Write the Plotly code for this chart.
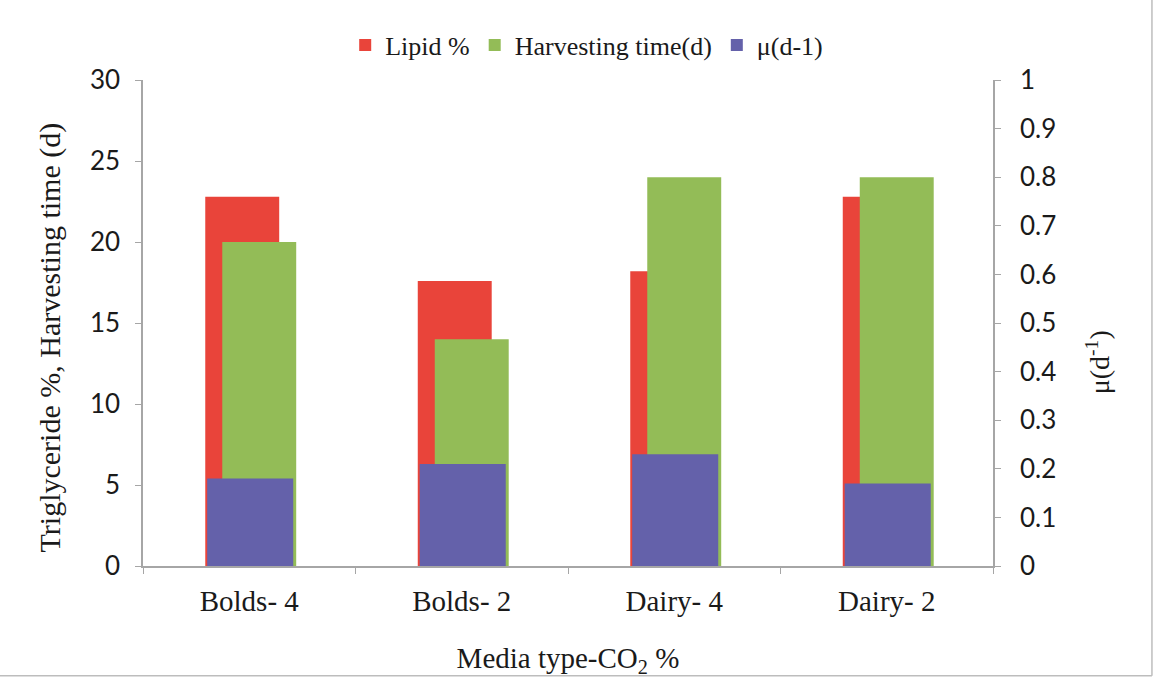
import plotly.graph_objects as go

categories = ["Bolds- 4", "Bolds- 2", "Dairy- 4", "Dairy- 2"]
lipid = [22.8, 17.6, 18.2, 22.8]
harvest = [20.0, 14.0, 24.0, 24.0]
mu = [0.18, 0.21, 0.23, 0.17]

left_ticks = [0, 5, 10, 15, 20, 25, 30]
right_ticks = [0, 0.1, 0.2, 0.3, 0.4, 0.5, 0.6, 0.7, 0.8, 0.9, 1]
right_tick_text = ["0", "0.1", "0.2", "0.3", "0.4", "0.5", "0.6", "0.7", "0.8", "0.9", "1"]

RED = "#E9443A"
GREEN = "#93BC57"
PURPLE = "#6461AA"
AXIS = "#A6A6A6"
SERIF = "Liberation Serif"
SANS = "Lato"
TXT = "#1a1a1a"

fig = go.Figure()
fig.add_trace(go.Bar(x=categories, y=lipid, name="Lipid %", marker_color=RED,
                     marker_line_width=0, width=0.348, offset=-0.207, yaxis="y"))
fig.add_trace(go.Bar(x=categories, y=harvest, name="Harvesting time(d)", marker_color=GREEN,
                     marker_line_width=0, width=0.348, offset=-0.127, yaxis="y"))
fig.add_trace(go.Bar(x=categories, y=mu, name="μ(d-1)", marker_color=PURPLE,
                     marker_line_width=0, width=0.405, offset=-0.198, yaxis="y2"))

fig.update_layout(
    width=1159, height=678,
    barmode="overlay",
    paper_bgcolor="white", plot_bgcolor="white",
    margin=dict(l=143, r=166, t=80, b=112, autoexpand=False),
    showlegend=True,
    legend=dict(orientation="h", x=0.522, xanchor="center", y=1.072, yanchor="middle",
                font=dict(family=SERIF, size=26, color=TXT),
                itemwidth=30, tracegroupgap=0, traceorder="normal"),
    xaxis=dict(
        type="category", showline=True, linecolor=AXIS, linewidth=1.5, automargin=False,
        ticks="outside", tickson="boundaries", ticklen=6, tickcolor=AXIS,
        showgrid=False, zeroline=False,
        tickfont=dict(family=SERIF, size=29, color=TXT),
        ticklabelstandoff=8,
        title=dict(text="Media type-CO<sub>2</sub> %", font=dict(family=SERIF, size=29, color=TXT),
                   standoff=32),
    ),
    yaxis=dict(
        range=[0, 30], tickvals=left_ticks, showline=True, linecolor=AXIS, linewidth=1.5,
        automargin=False,
        ticks="outside", ticklen=6, tickcolor=AXIS, showgrid=False, zeroline=False,
        tickfont=dict(family=SANS, size=26, color=TXT),
        ticklabelstandoff=10,
    ),
    yaxis2=dict(
        range=[0, 1], tickvals=right_ticks, ticktext=right_tick_text, overlaying="y", side="right",
        showline=True, linecolor=AXIS, linewidth=1.5, automargin=False,
        ticks="outside", ticklen=6, tickcolor=AXIS, showgrid=False, zeroline=False,
        tickfont=dict(family=SANS, size=26, color=TXT),
        ticklabelstandoff=14,
    ),
    annotations=[
        dict(text="Triglyceride %, Harvesting time (d)", xref="paper", yref="paper",
             x=-0.109, y=0.471, xanchor="center", yanchor="middle", textangle=-90,
             showarrow=False, font=dict(family=SERIF, size=30, color=TXT)),
        dict(text="μ(d<sup>-1</sup>)", xref="paper", yref="paper", x=1.124, y=0.42,
             xanchor="center", yanchor="middle", textangle=-90, showarrow=False,
             font=dict(family=SERIF, size=28, color=TXT)),
    ],
    shapes=[
        dict(type="line", xref="paper", yref="paper", x0=1.187, x1=1.187, y0=-0.226, y1=1.17,
             line=dict(color="#BDBDBD", width=1.5)),
        dict(type="line", xref="paper", yref="paper", x0=-0.17, x1=1.187, y0=-0.226, y1=-0.226,
             line=dict(color="#BDBDBD", width=1.5)),
    ],
)

fig.write_html("out.html")
